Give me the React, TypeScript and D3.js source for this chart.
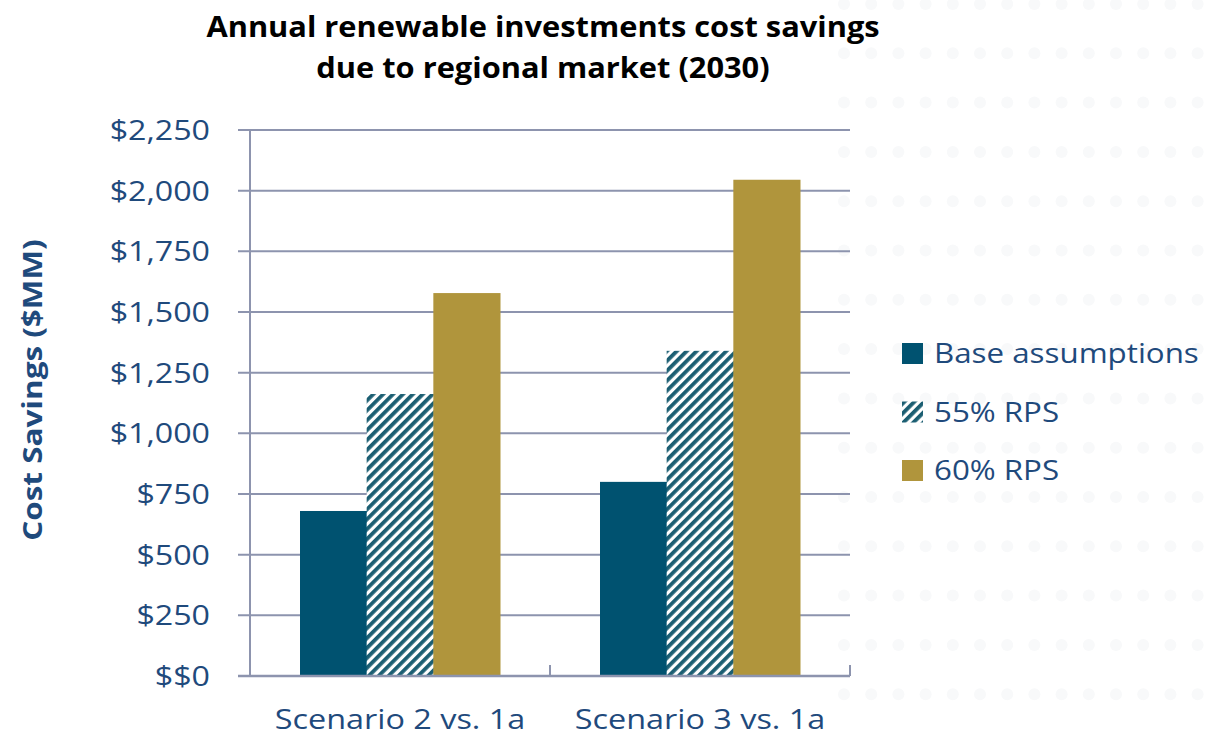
import React from "react";
import * as d3 from "d3";

const categories = ["Scenario 2 vs. 1a", "Scenario 3 vs. 1a"];
const seriesNames = ["Base assumptions", "55% RPS", "60% RPS"];
const baseValues = [680, 800];
const rps55Values = [1162, 1340];
const rps60Values = [1578, 2045];
const yTicks = [0, 250, 500, 750, 1000, 1250, 1500, 1750, 2000, 2250];
const yTickLabels = ["$$0", "$250", "$500", "$750", "$1,000", "$1,250", "$1,500", "$1,750", "$2,000", "$2,250"];
const titleLines = ["Annual renewable investments cost savings", "due to regional market (2030)"];
const yAxisTitle = "Cost Savings ($MM)";

const W = 1205;
const H = 737;
const M = { left: 250, right: 850, top: 130, bottom: 676 };
const TEXT = "#1F4A7C";
const GRID = "#8D94AE";
const TEAL = "#005270";
const GOLD = "#B0953C";
const FONT = "'Open Sans', 'Noto Sans', sans-serif";

export default function App() {
  const x0 = d3.scaleBand<string>().domain(categories).range([M.left, M.right]).paddingInner(0).paddingOuter(0);
  const y = d3.scaleLinear().domain([0, 2250]).range([M.bottom, M.top]);
  const seriesValues = [baseValues, rps55Values, rps60Values];
  const fills = [TEAL, "url(#hatch)", GOLD];
  const groupPad = 50;
  const barW = (x0.bandwidth() - 2 * groupPad) / seriesNames.length;

  const dotsX = d3.range(844, 1210, 27.2);
  const dotsY = d3.range(4, 740, 49.3);

  return (
    <svg width={W} height={H} style={{ position: "absolute", left: 0, top: 0, background: "#fff" }}>
      <defs>
        <pattern id="hatch" patternUnits="userSpaceOnUse" width="7" height="7" patternTransform="rotate(45)">
          <rect width="7" height="7" fill="#ffffff" />
          <rect width="3.8" height="7" fill="#1B5E72" />
        </pattern>
      </defs>
      <rect width={W} height={H} fill="#fff" />
      <g>
        {dotsY.map((dy, i) =>
          dotsX.map((dx, j) => <circle key={`d${i}-${j}`} cx={dx} cy={dy} r={6} fill="#f8f9fa" />)
        )}
      </g>
      {/* title */}
      {titleLines.map((t, i) => (
        <g key={t} transform={`translate(543,${37 + i * 41}) scale(1.1,1)`}>
          <text textAnchor="middle" fontFamily={FONT} fontWeight="bold" fontSize={28} fill="#000">
            {t}
          </text>
        </g>
      ))}
      {/* gridlines and y ticks */}
      {yTicks.map((v, i) => (
        <g key={v}>
          <line x1={238} x2={M.right} y1={y(v)} y2={y(v)} stroke={GRID} strokeWidth={2} />
          <g transform={`translate(210,${y(v)}) scale(1.15,1)`}>
            <text dy="0.36em" textAnchor="end" fontFamily={FONT} fontSize={28} fill={TEXT}>
              {yTickLabels[i]}
            </text>
          </g>
        </g>
      ))}
      {/* bars */}
      {categories.map((c, ci) => (
        <g key={c} transform={`translate(${x0(c)},0)`}>
          {seriesNames.map((s, si) => {
            const v = seriesValues[si][ci];
            return (
              <rect key={s} x={groupPad + si * barW} y={y(v)} width={barW + 0.5} height={y(0) - y(v)} fill={fills[si]} />
            );
          })}
        </g>
      ))}
      {/* axes */}
      <line x1={M.left} x2={M.left} y1={M.top} y2={M.bottom} stroke={GRID} strokeWidth={2} />
      <line x1={238} x2={M.right} y1={M.bottom} y2={M.bottom} stroke={GRID} strokeWidth={2.5} />
      {[M.left, M.left + x0.bandwidth(), M.right].map((tx) => (
        <line key={tx} x1={tx} x2={tx} y1={M.bottom - 11} y2={M.bottom} stroke={GRID} strokeWidth={2} />
      ))}
      {categories.map((c) => (
        <g key={c} transform={`translate(${(x0(c) as number) + x0.bandwidth() / 2},729) scale(1.2,1)`}>
          <text textAnchor="middle" fontFamily={FONT} fontSize={27} fill={TEXT}>
            {c}
          </text>
        </g>
      ))}
      {/* y axis title */}
      <g transform={`translate(42,390) rotate(-90) scale(1.21,1)`}>
        <text textAnchor="middle" fontFamily={FONT} fontWeight="bold" fontSize={26} fill={TEXT}>
          {yAxisTitle}
        </text>
      </g>
      {/* legend */}
      {seriesNames.map((s, i) => (
        <g key={s} transform={`translate(902,${343 + i * 58.5})`}>
          <rect width={21} height={21} fill={fills[i]} />
          <g transform="translate(32,20) scale(1.16,1)">
            <text fontFamily={FONT} fontSize={27} fill={TEXT}>
              {s}
            </text>
          </g>
        </g>
      ))}
    </svg>
  );
}
